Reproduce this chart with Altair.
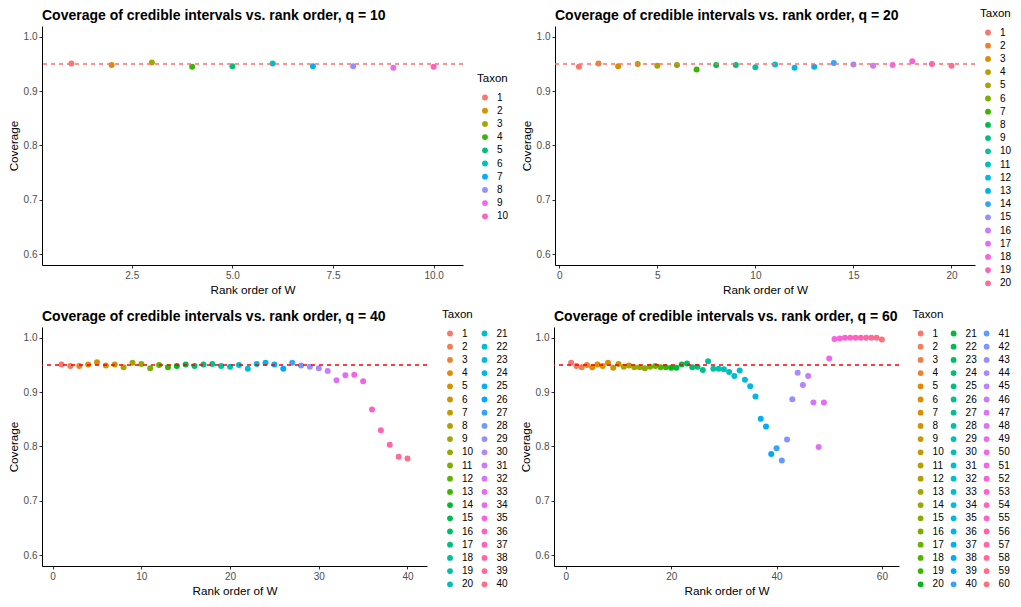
import math
import altair as alt
import pandas as pd

# ---------------- data ----------------
REF_LINE = 0.95

cov_q10 = [0.951, 0.948, 0.953, 0.945, 0.946, 0.951, 0.946, 0.946, 0.943, 0.945]

cov_q20 = [0.945, 0.951, 0.946, 0.950, 0.947, 0.948, 0.940, 0.948, 0.948, 0.944,
           0.949, 0.943, 0.945, 0.952, 0.949, 0.947, 0.948, 0.955, 0.950, 0.947]

cov_q40 = [0.951, 0.948, 0.948, 0.951, 0.955, 0.949, 0.951, 0.946, 0.954, 0.952,
           0.944, 0.950, 0.946, 0.948, 0.951, 0.948, 0.951, 0.952, 0.948, 0.947,
           0.950, 0.943, 0.952, 0.954, 0.951, 0.943, 0.954, 0.949, 0.947, 0.944,
           0.939, 0.922, 0.931, 0.932, 0.920, 0.868, 0.830, 0.803, 0.781, 0.778]

cov_q60 = [0.954, 0.948, 0.946, 0.950, 0.946, 0.951, 0.948, 0.954, 0.945, 0.952,
           0.947, 0.949, 0.946, 0.946, 0.944, 0.947, 0.948, 0.946, 0.946, 0.945,
           0.945, 0.951, 0.953, 0.946, 0.947, 0.941, 0.957, 0.943, 0.943, 0.942,
           0.937, 0.930, 0.940, 0.923, 0.911, 0.892, 0.851, 0.837, 0.786, 0.797,
           0.774, 0.813, 0.887, 0.936, 0.913, 0.930, 0.881, 0.799, 0.881, 0.962,
           0.998, 0.999, 1.000, 1.000, 1.000, 1.000, 1.000, 1.000, 1.000, 0.997]

titles = ["Coverage of credible intervals vs. rank order, q = 10",
          "Coverage of credible intervals vs. rank order, q = 20",
          "Coverage of credible intervals vs. rank order, q = 40",
          "Coverage of credible intervals vs. rank order, q = 60"]

x_ticks_q10 = [2.5, 5.0, 7.5, 10.0]
x_ticks_q20 = [0, 5, 10, 15, 20]
x_ticks_q40 = [0, 10, 20, 30, 40]
x_ticks_q60 = [0, 20, 40, 60]
y_ticks = [0.6, 0.7, 0.8, 0.9, 1.0]

FONT = "Liberation Sans, Arial, Helvetica, sans-serif"


# ---------------- ggplot2 default hue palette (style) ----------------
def hue_pal(n, c=100.0, l=65.0):
    out = []
    wu, wv = 0.1978398, 0.4683363

    def gt(u):
        return 1.055 * u ** (1 / 2.4) - 0.055 if u > 0.00304 else 12.92 * u

    for i in range(n):
        h = math.radians(15 + 360.0 * i / n)
        U, V = c * math.cos(h), c * math.sin(h)
        Y = 100.0 * ((l + 16) / 116) ** 3
        u = U / (13 * l) + wu
        v = V / (13 * l) + wv
        X = 9.0 * Y * u / (4 * v)
        Z = -X / 3 - 5 * Y + 3 * Y / v
        r = gt((3.240479 * X - 1.537150 * Y - 0.498535 * Z) / 100)
        g = gt((-0.969256 * X + 1.875992 * Y + 0.041556 * Z) / 100)
        b = gt((0.055648 * X - 0.204043 * Y + 1.057311 * Z) / 100)
        rgb = [int(round(max(0.0, min(1.0, t)) * 255)) for t in (r, g, b)]
        out.append("#%02x%02x%02x" % tuple(rgb))
    return out


def panel(values, title, xdomain, xticks, xfmt, width, height,
          lx, ly, columns, colpad, line_color, line_width, title_dy):
    n = len(values)
    labels = [str(i + 1) for i in range(n)]
    df = pd.DataFrame({"rank": list(range(1, n + 1)),
                       "coverage": values,
                       "Taxon": labels})
    pts = alt.Chart(df).mark_circle(size=36, opacity=1).encode(
        x=alt.X("rank:Q",
                scale=alt.Scale(domain=xdomain, nice=False, zero=False),
                axis=alt.Axis(values=xticks, format=xfmt, title="Rank order of W")),
        y=alt.Y("coverage:Q",
                scale=alt.Scale(domain=[0.58, 1.02], nice=False, zero=False),
                axis=alt.Axis(values=y_ticks, format=".1f", title="Coverage")),
        color=alt.Color("Taxon:N",
                        scale=alt.Scale(domain=labels, range=hue_pal(n)),
                        sort=labels,
                        legend=alt.Legend(orient="none", legendX=lx, legendY=ly,
                                          columns=columns, title="Taxon",
                                          symbolLimit=100, gridAlign="all",
                                          symbolType="circle", symbolSize=34,
                                          symbolOpacity=1, symbolStrokeWidth=0,
                                          symbolOffset=3, labelOffset=7,
                                          columnPadding=colpad, rowPadding=3.2,
                                          titlePadding=8, labelFontSize=10,
                                          titleFontSize=11.5,
                                          titleFontWeight="normal",
                                          labelColor="black", titleColor="black",
                                          labelFont=FONT, titleFont=FONT)),
    )
    rule = alt.Chart(pd.DataFrame({"ref": [REF_LINE]})).mark_rule(
        color=line_color, stroke=line_color, strokeDash=[4, 4],
        strokeWidth=line_width
    ).encode(y="ref:Q")
    return alt.layer(pts, rule).properties(
        width=width, height=height,
        title=alt.TitleParams(title, anchor="start", frame="group", fontSize=14,
                              fontWeight="bold", font=FONT, color="black",
                              offset=3, dy=title_dy),
    )


p1 = panel(cov_q10, titles[0], [0.27, 10.73], x_ticks_q10, ".1f", 421, 239,
           435, 47, 1, 4, "#ff7070", 1.4, 0)
p2 = panel(cov_q20, titles[1], [-0.22, 21.2], x_ticks_q20, "d", 420, 239,
           425, -18, 1, 4, "#ff7070", 1.4, 18)
p3 = panel(cov_q40, titles[2], [-1.2, 42.2], x_ticks_q40, "d", 385, 239,
           400, -18, 2, 2.5, "#ff0000", 1.3, 18)
p4 = panel(cov_q60, titles[3], [-2.25, 63.25], x_ticks_q60, "d", 345, 239,
           358.6, -18, 3, 1, "#ff0000", 1.3, 18)

row1 = alt.hconcat(p1, p2, spacing=12).resolve_scale(color="independent")
row2 = alt.hconcat(p3, p4, spacing=12).resolve_scale(color="independent")

chart = alt.vconcat(row1, row2, spacing=13).resolve_scale(
    color="independent"
).properties(
    padding={"left": 0, "top": 0, "right": 0, "bottom": 0},
    background="white",
).configure_view(stroke=None).configure_axis(
    grid=False, domainColor="black", domainWidth=1, tickColor="#333333",
    tickSize=3, labelColor="#4d4d4d", labelFontSize=10, labelFont=FONT,
    labelPadding=2, titleFont=FONT, titleFontSize=11.7, titleFontWeight="normal",
    titleColor="black", titlePadding=4
)

chart.save("out.html", embed_options={"renderer": "svg", "actions": False})
